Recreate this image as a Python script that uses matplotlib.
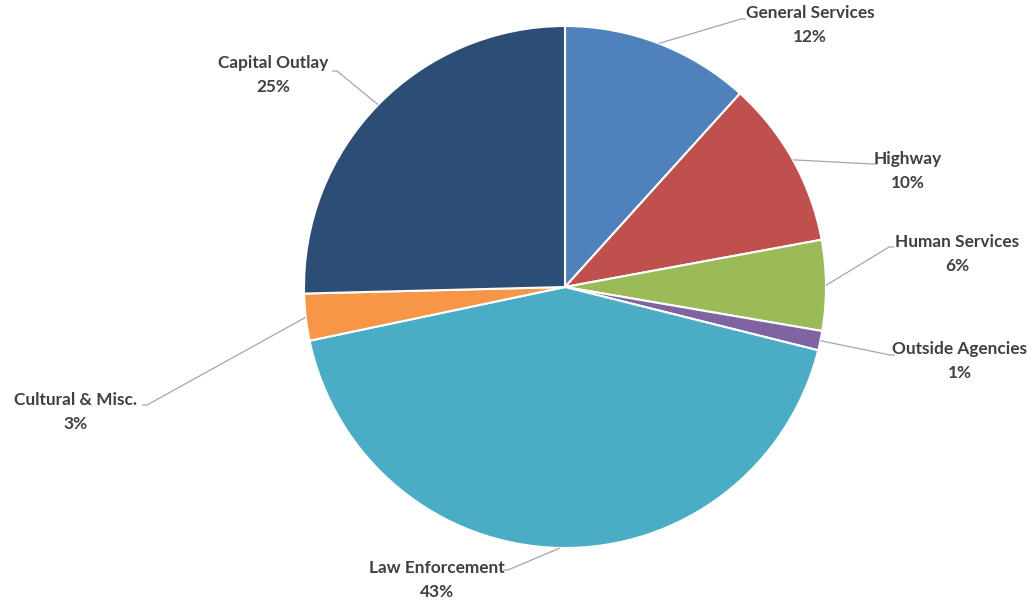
import numpy as np
import matplotlib.pyplot as plt

# Budget share by department (percent)
categories = ["General Services", "Highway", "Human Services", "Outside Agencies",
              "Law Enforcement", "Cultural & Misc.", "Capital Outlay"]
values = [11.7, 10.4, 5.6, 1.2, 42.8, 2.9, 25.4]
colors = ["#4F81BD", "#C0504D", "#9BBB59", "#8064A2", "#4BACC6", "#F79646", "#2C4D75"]

# label layout (pixel coords, y measured from top)
label_pos = [(810, 25), (908, 171), (957, 254), (960, 361), (437, 580), (75, 412), (273, 75)]
elbow_pos = [(741, 19), (872, 164), (889, 247), (890, 355), (508, 570), (147, 405), (337, 71)]
text_side = [1, 1, 1, 1, -1, -1, -1]

W, H = 1031, 601
cx, cy, R = 565, 287, 261

fig = plt.figure(figsize=(W / 100, H / 100), dpi=100)
ax = fig.add_axes([0, 0, 1, 1])

wedges, _ = ax.pie(values, colors=colors, startangle=90, counterclock=False,
                   center=(cx, H - cy), radius=R, frame=True,
                   wedgeprops=dict(edgecolor="white", linewidth=1.5))
ax.set_xlim(0, W)
ax.set_ylim(0, H)
ax.axis("off")

total = sum(values)
for w, name, v, lp, ep, side in zip(wedges, categories, values, label_pos, elbow_pos, text_side):
    mid = np.deg2rad((w.theta1 + w.theta2) / 2)
    x0 = cx + R * np.cos(mid)
    y0 = (H - cy) + R * np.sin(mid)
    ex, ey = ep[0], H - ep[1]
    ax.plot([x0, ex, ex + side * 5], [y0, ey, ey], color="#A6A6A6", lw=0.9,
            solid_capstyle="butt")
    ax.text(lp[0], H - lp[1], f"{name}\n{v / total * 100:.0f}%", ha="center", va="center",
            fontsize=12.4, fontweight="bold", color="#404040", family="Lato",
            linespacing=1.62)

fig.savefig("out.png", dpi=100, facecolor="white")
